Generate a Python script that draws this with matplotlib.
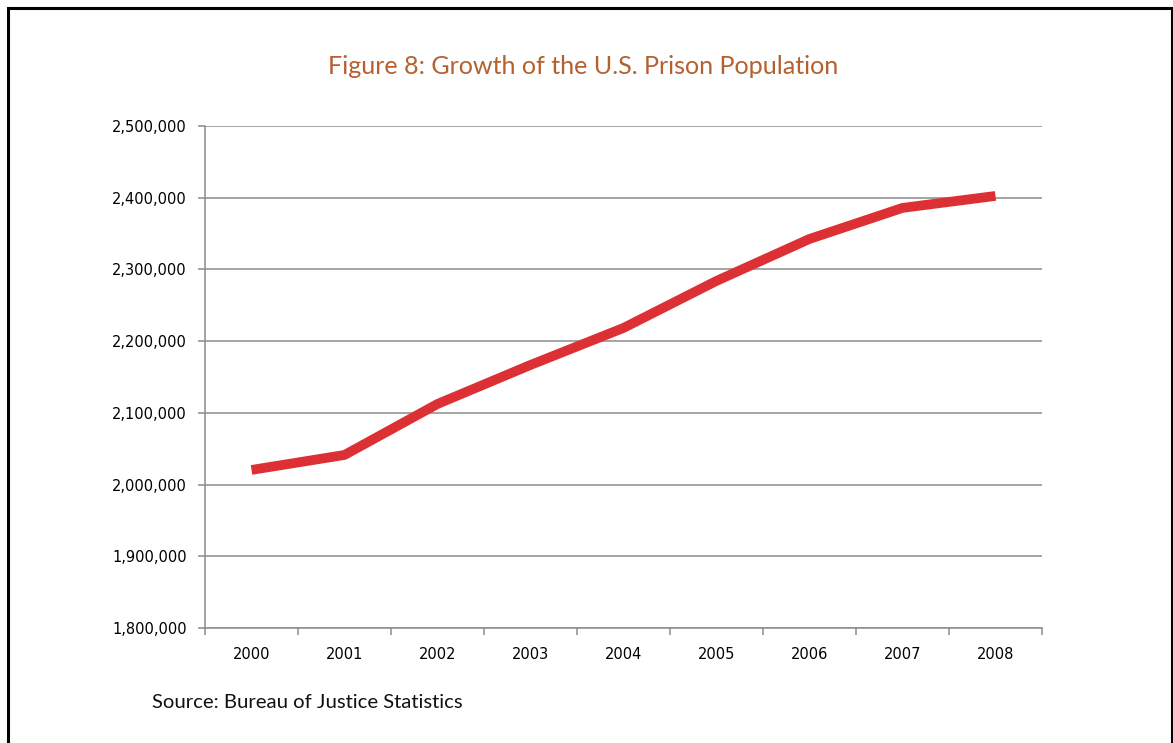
import numpy as np
import matplotlib.pyplot as plt
from matplotlib.patches import Rectangle
from matplotlib.ticker import FuncFormatter

years = ["2000", "2001", "2002", "2003", "2004", "2005", "2006", "2007", "2008"]
population = [2020400, 2041300, 2112400, 2166800, 2218400, 2284000, 2342500, 2385800, 2402500]

title = "Figure 8: Growth of the U.S. Prison Population"
source = "Source: Bureau of Justice Statistics"

grid_col = "#8c8c8c"

fig = plt.figure(figsize=(11.73, 7.43), dpi=100)
ax = fig.add_axes([0.1748, 0.1548, 0.7135, 0.6756])

x = np.arange(len(years))
ax.plot(x, population, color="#dc3034", lw=7, solid_joinstyle="miter", solid_capstyle="butt", zorder=3)

ax.set_ylim(1800000, 2500000)
ax.set_yticks(np.arange(1800000, 2500001, 100000))
ax.yaxis.set_major_formatter(FuncFormatter(lambda v, p: f"{int(v):,}"))
ax.set_xlim(-0.5, len(years) - 0.5)
ax.set_xticks(x)
ax.set_xticklabels(years)
ax.set_xticks(np.arange(-0.5, len(years)), minor=True)

ax.grid(axis="y", color=grid_col, lw=1.1)
ax.set_axisbelow(True)
for s in ["top", "right"]:
    ax.spines[s].set_visible(False)
for s in ["left", "bottom"]:
    ax.spines[s].set_color(grid_col)
    ax.spines[s].set_linewidth(1.1)

ax.tick_params(axis="y", length=5, color=grid_col, width=1.1, labelsize=10.5, pad=8)
ax.tick_params(axis="x", which="major", length=0, labelsize=10.5, pad=14)
ax.tick_params(axis="x", which="minor", length=5, color=grid_col, width=1.1)

fig.text(0.497, 0.910, title, ha="center", va="center", fontsize=18.1,
         color="#b5602f", family="Lato")
fig.text(0.1295, 0.054, source, ha="left", va="center", fontsize=14.6,
         color="#111111", family="Lato")

# frame around the figure, bottom edge cut off
fig.patches.append(Rectangle((0.0068, -0.05), 0.9925, 1.039, transform=fig.transFigure,
                             fill=False, edgecolor="black", lw=2.2, clip_on=False))

fig.savefig("out.png", dpi=100, facecolor="white")
